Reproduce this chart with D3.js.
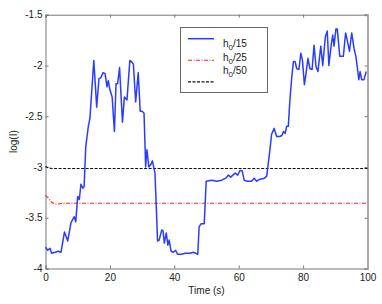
<html>
<head>
<meta charset="utf-8">
<script src="https://d3js.org/d3.v7.min.js"></script>
<style>
  body { margin: 0; background: #fff; }
  text { font-family: "Liberation Sans", Arial, sans-serif; font-size: 10px; fill: #222; }
</style>
</head>
<body>
<svg id="chart"></svg>
<script>
// h0/15 series (time in s, log(I))
const blueT = [0, 0.7, 1.4, 1.9, 3, 4, 4.8, 5.9, 6.9, 7.9, 8.9, 9.4, 10, 10.5, 11, 11.6, 12, 12.5, 13.3, 13.8,
  15, 15.9, 16.6, 17.2, 17.9, 18.5, 19.1, 19.5, 20, 20.7, 21.4, 21.9, 22.4, 23, 23.9, 24.5, 25.3, 26.2, 26.9, 27.3,
  28, 28.8, 29.4, 30, 30.6, 31.1, 31.5, 32.1, 32.8, 33.2, 34, 34.8, 35.3, 36.1, 36.5, 36.9, 37.5, 38, 38.4, 39,
  39.7, 40.4, 41, 42.3, 43.3, 44.9, 45.9, 46.6, 47.3, 47.7, 48.3, 49.3, 49.9, 51.6, 53.2, 54.7, 56, 56.8, 57.5, 58.9,
  59.7, 60.4, 61.1, 61.7, 62.8, 64, 64.8, 65.6, 66.6, 68, 68.7, 69.2, 69.7, 70.2, 71, 71.8, 72.7, 73.4, 73.9, 74.4,
  74.9, 75.4, 75.9, 76.5, 77, 77.5, 78, 78.7, 79.3, 79.8, 80.4, 80.9, 81.5, 82.1, 82.8, 83.4, 84, 84.6, 85.5, 86.1,
  86.9, 87.5, 88, 88.8, 89.2, 89.6, 90.2, 90.6, 91.4, 92.5, 93.2, 93.7, 94.4, 95.1, 95.8, 96.4, 96.8, 97.3, 97.7, 98.2,
  98.9, 99.6];
const blueV = [-3.79, -3.82, -3.80, -3.85, -3.84, -3.83, -3.84, -3.64, -3.73, -3.55, -3.49, -3.54, -3.29, -3.32, -3.17, -3.21, -3.19, -2.80, -2.60, -2.52,
  -1.95, -2.41, -2.13, -2.12, -2.07, -2.08, -2.21, -2.15, -2.24, -2.31, -2.65, -2.18, -2.18, -2.02, -2.56, -2.31, -2.34, -1.95, -1.97, -1.99,
  -2.36, -2.07, -2.45, -2.45, -2.47, -3.0, -2.83, -3.0, -2.97, -2.94, -3.06, -3.73, -3.72, -3.62, -3.63, -3.75, -3.65, -3.77, -3.72, -3.83,
  -3.84, -3.82, -3.86, -3.86, -3.85, -3.85, -3.84, -3.85, -3.86, -3.59, -3.56, -3.56, -3.14, -3.13, -3.14, -3.13, -3.11, -3.08, -3.10, -3.06,
  -3.08, -3.035, -3.04, -3.13, -3.14, -3.14, -3.11, -3.14, -3.12, -3.11, -3.09, -2.96, -2.83, -2.68, -2.62, -2.70, -2.70, -2.69, -2.65, -2.67,
  -2.60, -2.60, -2.34, -2.11, -1.96, -1.96, -2.03, -2.04, -1.88, -1.95, -2.19, -2.08, -1.93, -2.03, -2.04, -1.80, -2.01, -2.06, -1.81, -2.00,
  -1.72, -1.66, -2.0, -1.78, -1.70, -1.81, -1.64, -1.64, -1.91, -1.91, -1.68, -1.75, -1.86, -1.68, -1.83, -1.91, -2.01, -2.14, -2.06, -2.14,
  -2.14, -2.06];

// h0/25 series
const redT = [0, 1, 2, 3, 4, 5, 6, 100];
const redV = [-3.28, -3.31, -3.35, -3.365, -3.365, -3.36, -3.358, -3.358];

// h0/50 series
const blackT = [0, 1, 2, 100];
const blackV = [-2.995, -3.01, -3.015, -3.015];

const xTicks = [0, 20, 40, 60, 80, 100];
const yTicks = [-4, -3.5, -3, -2.5, -2, -1.5];
const legendLabels = ["15", "25", "50"];

const width = 382, height = 304;
const margin = {left: 45.5, right: 14.5, top: 14.7, bottom: 35.5};
const iw = width - margin.left - margin.right;
const ih = height - margin.top - margin.bottom;

const svg = d3.select("#chart").attr("width", width).attr("height", height);
const g = svg.append("g").attr("transform", `translate(${margin.left},${margin.top})`);

const x = d3.scaleLinear().domain([0, 100]).range([0, iw]);
const y = d3.scaleLinear().domain([-4, -1.5]).range([ih, 0]);

// axes
const axBottom = g.append("g").attr("transform", `translate(0,${ih})`)
  .call(d3.axisBottom(x).tickValues(xTicks).tickSize(-3).tickPadding(5).tickFormat(d3.format("d")));
const axLeft = g.append("g")
  .call(d3.axisLeft(y).tickValues(yTicks).tickSize(-3).tickPadding(3).tickFormat(d => String(d)));
const axTop = g.append("g")
  .call(d3.axisTop(x).tickValues(xTicks).tickSize(-3).tickFormat(""));
const axRight = g.append("g").attr("transform", `translate(${iw},0)`)
  .call(d3.axisRight(y).tickValues(yTicks).tickSize(-3).tickFormat(""));

[axBottom, axLeft, axTop, axRight].forEach(a => {
  a.select(".domain").attr("stroke", "#777");
  a.selectAll(".tick line").attr("stroke", "#777");
  a.selectAll("text").attr("font-size", 10).attr("fill", "#222")
    .attr("font-family", "Liberation Sans, Arial, sans-serif");
});
axRight.select(".domain").attr("stroke", "#aaa").attr("stroke-width", 2);

const line = d3.line().x(d => x(d[0])).y(d => y(d[1]));
const zip = (a, b) => a.map((t, i) => [t, b[i]]);

g.append("path").datum(zip(blackT, blackV)).attr("d", line)
  .attr("fill", "none").attr("stroke", "#111").attr("stroke-width", 1.2).attr("stroke-dasharray", "3,1.5");
g.append("path").datum(zip(redT, redV)).attr("d", line)
  .attr("fill", "none").attr("stroke", "#f22").attr("stroke-width", 1.1).attr("stroke-dasharray", "4,1.5,1,1.5");
g.append("path").datum(zip(blueT, blueV)).attr("d", line)
  .attr("fill", "none").attr("stroke", "#2a3cff").attr("stroke-width", 1.5).attr("stroke-linejoin", "round");

// axis labels
svg.append("text").attr("x", margin.left + iw / 2).attr("y", 294)
  .attr("text-anchor", "middle").text("Time (s)");
svg.append("text").attr("transform", `translate(17,${margin.top + ih / 2}) rotate(-90)`)
  .attr("text-anchor", "middle").text("log(I)");

// legend
const lg = svg.append("g");
lg.append("rect").attr("x", 180.5).attr("y", 27.5).attr("width", 87).attr("height", 65)
  .attr("fill", "#fff").attr("stroke", "#666");
const styles = [
  {stroke: "#2a3cff", w: 1.5, dash: null},
  {stroke: "#f22", w: 1.1, dash: "4,1.5,1,1.5"},
  {stroke: "#111", w: 1.2, dash: "3,1.5"}
];
legendLabels.forEach((lab, i) => {
  const ly = 38.7 + i * 21.6;
  lg.append("line").attr("x1", 188).attr("x2", 214).attr("y1", ly).attr("y2", ly)
    .attr("stroke", styles[i].stroke).attr("stroke-width", styles[i].w)
    .attr("stroke-dasharray", styles[i].dash);
  const t = lg.append("text").attr("x", 223).attr("y", 47 + i * 13.5);
  t.append("tspan").text("h");
  t.append("tspan").attr("dy", 3).attr("font-size", 8).text("0");
  t.append("tspan").attr("dy", -3).text("/" + lab);
});
</script>
</body>
</html>
